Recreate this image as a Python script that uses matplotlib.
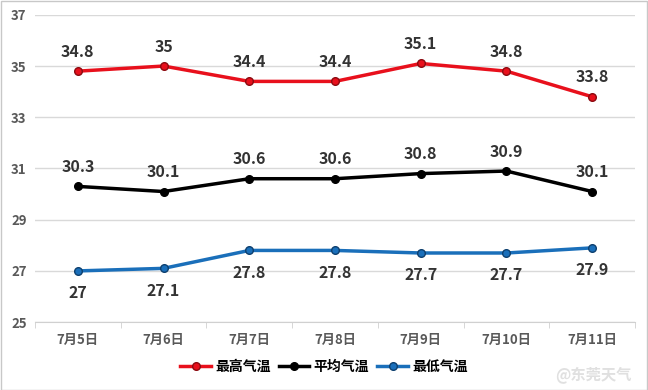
import matplotlib
matplotlib.use('Agg')
import matplotlib.pyplot as plt
from matplotlib.patches import Rectangle

plt.rcParams['font.family'] = ['Noto Sans CJK SC', 'DejaVu Sans']

dates = ['7月5日', '7月6日', '7月7日', '7月8日', '7月9日', '7月10日', '7月11日']
high_temp = [34.8, 35, 34.4, 34.4, 35.1, 34.8, 33.8]
avg_temp = [30.3, 30.1, 30.6, 30.6, 30.8, 30.9, 30.1]
low_temp = [27, 27.1, 27.8, 27.8, 27.7, 27.7, 27.9]
y_ticks = [25, 27, 29, 31, 33, 35, 37]

fig = plt.figure(figsize=(6.48, 3.9), dpi=100)
ax = fig.add_axes([0.054, 0.174, 0.926, 0.788])

x = list(range(len(dates)))
series = [
    ('最高气温', high_temp, '#e8101c', '#8b0a10', 14),
    ('平均气温', avg_temp, '#000000', '#000000', 14),
    ('最低气温', low_temp, '#1a6fba', '#0d3f6e', -16),
]
for name, vals, color, edge, offset in series:
    ax.plot(x, vals, color=color, lw=2.5, marker='o', ms=5.5,
            markerfacecolor=color, markeredgecolor=edge, markeredgewidth=1,
            label=name, zorder=3)
    for xi, v in zip(x, vals):
        ax.annotate(f'{v:g}', (xi, v), xytext=(0, offset), textcoords='offset points',
                    ha='center', va='center', fontsize=11.5, fontweight='bold',
                    color='#333333')

ax.set_xlim(-0.5, len(dates) - 0.5)
ax.set_ylim(25, 37)
ax.set_yticks(y_ticks)
ax.set_xticks(x)
ax.set_xticklabels(dates)
ax.set_xticks([i - 0.5 for i in range(len(dates) + 1)], minor=True)
ax.tick_params(axis='x', which='major', length=0, pad=8, labelsize=9.5, colors='#595959')
ax.tick_params(axis='x', which='minor', length=4, color='#d0d0d0')
ax.tick_params(axis='y', length=0, pad=6, labelsize=9.5, colors='#595959')
for lbl in ax.get_xticklabels() + ax.get_yticklabels():
    lbl.set_fontweight('bold')
ax.grid(axis='y', color='#d9d9d9', lw=1)
ax.set_axisbelow(True)
for side in ['left', 'right', 'top']:
    ax.spines[side].set_visible(False)
ax.spines['bottom'].set_color('#d0d0d0')

leg = fig.legend(loc='center', bbox_to_anchor=(0.5, 0.06), ncol=3, frameon=False,
                 handlelength=2.2, columnspacing=0.6, handletextpad=0.3,
                 prop={'size': 10, 'weight': 'bold'})

fig.text(0.975, 0.04, '@东莞天气', ha='right', va='center', fontsize=11,
         color='#e0e0e0', fontweight='bold')
fig.patches.append(Rectangle((0.001, 0.001), 0.997, 0.997, transform=fig.transFigure,
                             fill=False, edgecolor='#c8c8c8', lw=1))

fig.savefig('out.png', dpi=100)
